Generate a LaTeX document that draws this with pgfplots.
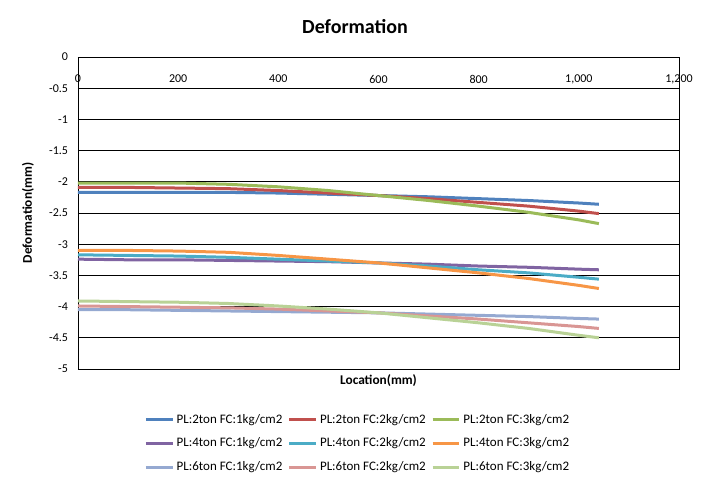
\documentclass[border=0pt]{standalone}
\usepackage{pgfplots}
\pgfplotsset{compat=1.18}
\usepackage{fontspec}
\setmainfont{Carlito}
\definecolor{c1}{HTML}{4F81BD}
\definecolor{c2}{HTML}{C0504D}
\definecolor{c3}{HTML}{9BBB59}
\definecolor{c4}{HTML}{8064A2}
\definecolor{c5}{HTML}{4BACC6}
\definecolor{c6}{HTML}{F79646}
\definecolor{c7}{HTML}{95A9D1}
\definecolor{c8}{HTML}{D99694}
\definecolor{c9}{HTML}{B9D296}
\begin{document}
\begin{tikzpicture}
\begin{axis}[
  scale only axis,
  width=450.75pt, height=234pt,
  xmin=0, xmax=1200, ymin=-5, ymax=0,
  xtick={0,200,...,1200},
  ytick={-5,-4.5,...,0},
  yticklabels={-5,-4.5,-4,-3.5,-3,-2.5,-2,-1.5,-1,-0.5,0},
  xticklabels={0,200,400,600,800,{1,000},{1,200}},
  xticklabel pos=upper,
  xtick pos=upper,
  ytick pos=left,
  major tick length=0pt,
  every x tick label/.append style={anchor=north, yshift=-10pt, font=\fontsize{9}{10}\selectfont},
  every y tick label/.append style={font=\fontsize{9}{10}\selectfont, xshift=-4pt},
  /pgf/number format/assume math mode=true,
  ymajorgrids,
  grid style={black, line width=0.7pt},
  axis line style={black, line width=0.7pt},
  xlabel={\bfseries Location(mm)},
  xlabel style={font=\fontsize{10}{12}\selectfont, at={(axis description cs:0.5,0)}, anchor=north, yshift=-1pt},
  ylabel={\bfseries Deformation(mm)},
  ylabel style={font=\fontsize{10}{12}\selectfont, at={(axis description cs:0,0.5)}, anchor=center, yshift=37.5pt},
  legend columns=3,
  legend style={draw=none, at={(axis description cs:0.466,-0.127)}, anchor=north,
    font=\fontsize{9.75}{11}\selectfont, row sep=5.5pt,
    /tikz/every even column/.append style={column sep=2pt}},
  legend image code/.code={\draw[#1, line width=2.25pt] (0pt,0pt) -- (20pt,0pt);},
  every axis plot/.append style={line width=2.25pt},
]
\addplot[c1] coordinates {(0,-2.17) (100,-2.17) (200,-2.17) (300,-2.17) (400,-2.18) (500,-2.20) (600,-2.22) (700,-2.24) (800,-2.27) (900,-2.30) (1000,-2.34) (1040,-2.36)};
\addlegendentry{PL:2ton FC:1kg/cm2}
\addplot[c2] coordinates {(0,-2.09) (100,-2.09) (200,-2.10) (300,-2.11) (400,-2.14) (500,-2.18) (600,-2.22) (700,-2.27) (800,-2.33) (900,-2.39) (1000,-2.47) (1040,-2.51)};
\addlegendentry{PL:2ton FC:2kg/cm2}
\addplot[c3] coordinates {(0,-2.02) (100,-2.02) (200,-2.02) (300,-2.04) (400,-2.08) (500,-2.14) (600,-2.22) (700,-2.30) (800,-2.39) (900,-2.49) (1000,-2.61) (1040,-2.67)};
\addlegendentry{PL:2ton FC:3kg/cm2}
\addplot[c4] coordinates {(0,-3.24) (100,-3.25) (200,-3.25) (300,-3.26) (400,-3.27) (500,-3.28) (600,-3.30) (700,-3.32) (800,-3.35) (900,-3.37) (1000,-3.40) (1040,-3.41)};
\addlegendentry{PL:4ton FC:1kg/cm2}
\addplot[c5] coordinates {(0,-3.17) (100,-3.18) (200,-3.19) (300,-3.21) (400,-3.24) (500,-3.27) (600,-3.30) (700,-3.35) (800,-3.41) (900,-3.46) (1000,-3.53) (1040,-3.56)};
\addlegendentry{PL:4ton FC:2kg/cm2}
\addplot[c6] coordinates {(0,-3.10) (100,-3.10) (200,-3.11) (300,-3.13) (400,-3.18) (500,-3.24) (600,-3.30) (700,-3.38) (800,-3.46) (900,-3.55) (1000,-3.66) (1040,-3.71)};
\addlegendentry{PL:4ton FC:3kg/cm2}
\addplot[c7] coordinates {(0,-4.05) (100,-4.05) (200,-4.06) (300,-4.07) (400,-4.08) (500,-4.09) (600,-4.10) (700,-4.12) (800,-4.14) (900,-4.16) (1000,-4.19) (1040,-4.20)};
\addlegendentry{PL:6ton FC:1kg/cm2}
\addplot[c8] coordinates {(0,-3.99) (100,-4.00) (200,-4.01) (300,-4.02) (400,-4.04) (500,-4.07) (600,-4.10) (700,-4.15) (800,-4.20) (900,-4.26) (1000,-4.32) (1040,-4.35)};
\addlegendentry{PL:6ton FC:2kg/cm2}
\addplot[c9] coordinates {(0,-3.91) (100,-3.92) (200,-3.93) (300,-3.95) (400,-3.99) (500,-4.04) (600,-4.10) (700,-4.18) (800,-4.26) (900,-4.35) (1000,-4.46) (1040,-4.50)};
\addlegendentry{PL:6ton FC:3kg/cm2}
\end{axis}
\node[font=\bfseries\fontsize{15}{18}\selectfont] at (207.75pt,256.5pt) {Deformation};
\pgfresetboundingbox
\path[use as bounding box] (-58.5pt,-87pt) rectangle (474pt,276.75pt);
\end{tikzpicture}
\end{document}
